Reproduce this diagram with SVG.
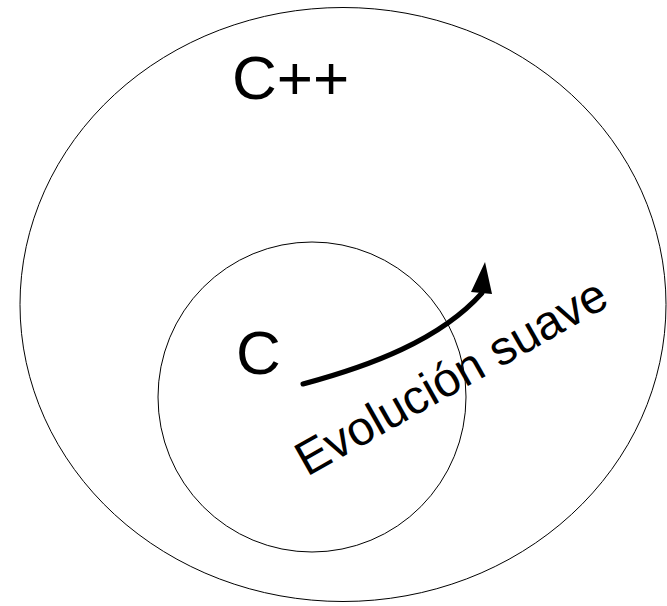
<svg xmlns="http://www.w3.org/2000/svg" width="667" height="606" viewBox="0 0 667 606">
<style>
.ring{fill:none;stroke:#000;stroke-width:1}
.lbl{font-family:"Liberation Sans",Arial,sans-serif;fill:#000}
</style>
<rect width="667" height="606" fill="#fff"/>
<g id="cpp">
<ellipse class="ring" cx="343" cy="304.5" rx="323" ry="297"/>
<text class="lbl" x="232" y="99" font-size="62">C++</text>
</g>
<g id="c">
<ellipse class="ring" cx="312" cy="397" rx="154" ry="155"/>
<text class="lbl" x="236" y="374" font-size="62">C</text>
</g>
<g id="connectors">
<path d="M303,384 C370,366 440,340 482,293" fill="none" stroke="#000" stroke-width="5" stroke-linecap="round"/>
<polygon points="485,262 471,292 492,294" fill="#000"/>
<text class="lbl" x="307" y="477" font-size="48" transform="rotate(-29.5 307 477)">Evolución suave</text>
</g>
</svg>
